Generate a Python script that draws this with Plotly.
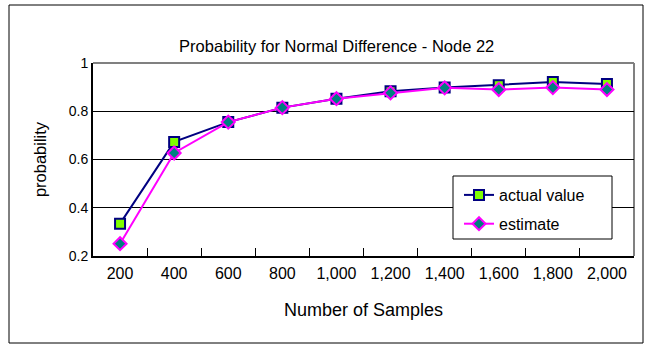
import plotly.graph_objects as go

samples = ["200", "400", "600", "800", "1,000", "1,200", "1,400", "1,600", "1,800", "2,000"]
actual_value = [0.334, 0.673, 0.755, 0.815, 0.852, 0.883, 0.898, 0.908, 0.921, 0.913]
estimate = [0.251, 0.627, 0.755, 0.815, 0.852, 0.876, 0.897, 0.890, 0.898, 0.890]
y_ticks = [0.2, 0.4, 0.6, 0.8, 1.0]
y_tick_labels = ["0.2", "0.4", "0.6", "0.8", "1"]

FONT = "Arial, Liberation Sans, sans-serif"

fig = go.Figure()
fig.add_trace(go.Scatter(
    x=samples, y=actual_value, name="actual value", mode="lines+markers", legendgroup="a",
    line=dict(color="#000080", width=2),
    marker=dict(symbol="square", size=10, color="#80FF00", line=dict(color="#000080", width=2)),
))
fig.add_trace(go.Scatter(
    x=samples, y=estimate, name="estimate", mode="lines+markers", legendgroup="b",
    line=dict(color="#FF00FF", width=2),
    marker=dict(symbol="diamond", size=10, color="#008080", line=dict(color="#FF00FF", width=2)),
))

L, R, T, B = 93, 16, 63, 96
W, H = 650, 352
pw, ph = W - L - R, H - T - B

def px_x(p):
    return (p - L) / pw

def px_y(p):
    return (H - B - p) / ph

shapes = [
    dict(type="rect", xref="paper", yref="paper", x0=px_x(9), x1=px_x(643), y0=px_y(343), y1=px_y(5),
         line=dict(color="#000000", width=1), layer="below"),
    dict(type="line", xref="paper", yref="paper", x0=0, x1=1, y0=1, y1=1, line=dict(color="#808080", width=2), layer="below"),
    dict(type="line", xref="paper", yref="paper", x0=1, x1=1, y0=0, y1=1, line=dict(color="#808080", width=2), layer="below"),
    # legend frame
    dict(type="rect", xref="paper", yref="paper", x0=px_x(453), x1=px_x(612), y0=px_y(239), y1=px_y(176),
         line=dict(color="#000000", width=1), fillcolor="white", layer="above"),
]

fig.update_layout(
    width=W, height=H,
    margin=dict(l=L, r=R, t=T, b=B, pad=0),
    paper_bgcolor="white", plot_bgcolor="white",
    font=dict(family=FONT, size=15, color="black"),
    title=dict(text="Probability for Normal Difference - Node 22", x=0.518, xref="container", xanchor="center",
               y=1 - 46 / H, yref="container", yanchor="middle", font=dict(size=16.5)),
    xaxis=dict(
        type="category", range=[-0.5, 9.5], tickson="boundaries", ticks="inside", ticklen=8,
        tickcolor="black", showline=True, linecolor="black", linewidth=2, showgrid=False,
        tickfont=dict(size=16), ticklabelstandoff=2,
        title=dict(text="Number of Samples", font=dict(size=18), standoff=22),
    ),
    yaxis=dict(
        range=[0.2, 1.0], tickvals=y_ticks, ticktext=y_tick_labels, ticks="inside", ticklen=6,
        tickcolor="black", showline=True, linecolor="black", linewidth=2,
        showgrid=True, gridcolor="black", gridwidth=1, zeroline=False,
        tickfont=dict(size=14),
        title=dict(text="probability", font=dict(size=16.5), standoff=18),
    ),
    legend=dict(
        x=px_x(459), y=px_y(178), xanchor="left", yanchor="top",
        borderwidth=0, bgcolor="rgba(0,0,0,0)",
        font=dict(size=16), traceorder="grouped", tracegroupgap=5, itemwidth=30,
    ),
    shapes=shapes,
    showlegend=True,
)

fig.write_html("out.html")
